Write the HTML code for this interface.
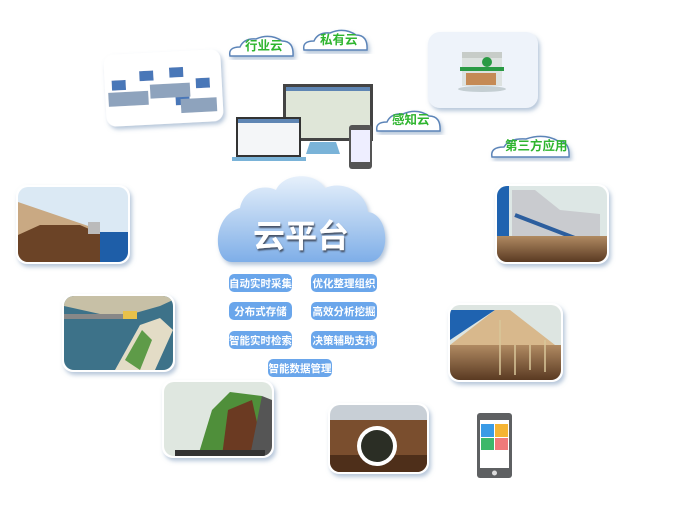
<!DOCTYPE html>
<html><head><meta charset="utf-8"><style>
body{margin:0;background:#fff;width:680px;height:525px;overflow:hidden;font-family:"Liberation Sans","Noto Sans CJK SC",sans-serif}
svg{display:block}
</style></head><body>
<svg width="680" height="525" viewBox="0 0 680 525" xmlns="http://www.w3.org/2000/svg">
<defs>
<linearGradient id="cl" x1="0" y1="0" x2="0" y2="1"><stop offset="0" stop-color="#e6f0fb"/><stop offset="0.6" stop-color="#a9c9ef"/><stop offset="1" stop-color="#7eaee8"/></linearGradient>
<linearGradient id="soil" x1="0" y1="0" x2="0" y2="1"><stop offset="0" stop-color="#b08a62"/><stop offset="1" stop-color="#5a3a22"/></linearGradient>
<filter id="sh" x="-10%" y="-10%" width="130%" height="130%"><feDropShadow dx="2" dy="3" stdDeviation="2" flood-color="#6e8fb5" flood-opacity="0.5"/></filter>
<filter id="ts"><feDropShadow dx="1" dy="2" stdDeviation="0.8" flood-color="#3d4a5c" flood-opacity="0.9"/></filter>
<clipPath id="c1"><rect x="18" y="187" width="110" height="75" rx="10"/></clipPath>
<clipPath id="c2"><rect x="64" y="296" width="109" height="74" rx="10"/></clipPath>
<clipPath id="c3"><rect x="164" y="382" width="108" height="74" rx="10"/></clipPath>
<clipPath id="c4"><rect x="497" y="186" width="110" height="76" rx="10"/></clipPath>
<clipPath id="c5"><rect x="450" y="305" width="111" height="75" rx="10"/></clipPath>
<clipPath id="c6"><rect x="330" y="405" width="97" height="67" rx="10"/></clipPath>
</defs>

<!-- small clouds -->
<g font-size="12.5" font-weight="bold">
<path d="M230 56 q-2-9 10-9 q4-9 16-8 q14-6 26 2 q12 0 11 15 z" fill="#fff" stroke="#5b84b8" stroke-width="1.5" filter="url(#sh)"/>
<text x="245" y="50" fill="#2fb52f">行业云</text>
<path d="M304 50 q-2-9 10-9 q4-9 16-8 q14-6 26 2 q12 0 11 15 z" fill="#fff" stroke="#5b84b8" stroke-width="1.5" filter="url(#sh)"/>
<text x="320" y="44" fill="#2fb52f">私有云</text>
<path d="M377 131 q-2-9 10-9 q4-9 16-8 q14-6 26 2 q12 0 11 15 z" fill="#fff" stroke="#5b84b8" stroke-width="1.5" filter="url(#sh)"/>
<text x="392" y="124" fill="#2fb52f">感知云</text>
<path d="M492 157 q-2-10 12-10 q5-9 22-8 q18-6 32 2 q12 0 11 16 z" fill="#fff" stroke="#5b84b8" stroke-width="1.5" filter="url(#sh)"/>
<text x="505" y="150" fill="#2fb52f">第三方应用</text>
</g>

<!-- office card -->
<g transform="rotate(-3 163 88)" filter="url(#sh)">
<rect x="105" y="52" width="117" height="72" rx="10" fill="#fff"/>
<g fill="#4a77b8"><rect x="112" y="78" width="14" height="10"/><rect x="140" y="70" width="14" height="10"/><rect x="170" y="68" width="14" height="10"/><rect x="196" y="80" width="14" height="10"/><rect x="130" y="94" width="14" height="10"/><rect x="175" y="96" width="14" height="10"/></g>
<g fill="#8ea3bd"><rect x="108" y="90" width="40" height="14"/><rect x="150" y="84" width="40" height="14"/><rect x="180" y="100" width="36" height="14"/></g>
</g>

<!-- building card -->
<rect x="428" y="32" width="110" height="76" rx="12" fill="#eef3fa" filter="url(#sh)"/>
<rect x="462" y="52" width="40" height="34" fill="#dde2e0"/>
<rect x="462" y="52" width="40" height="6" fill="#c7ccc8"/>
<rect x="460" y="67" width="44" height="4" fill="#2a9a44"/>
<circle cx="487" cy="62" r="5" fill="#2a9a44"/>
<rect x="466" y="73" width="30" height="12" fill="#c58a55"/>
<ellipse cx="482" cy="89" rx="24" ry="3" fill="#9aa" opacity="0.5"/>

<!-- monitors -->
<rect x="283" y="84" width="90" height="57" fill="#444"/>
<rect x="286" y="87" width="84" height="51" fill="#dfe6d8"/>
<rect x="286" y="87" width="84" height="4" fill="#5f86b4"/>
<path d="M310 142 h26 l4 12 h-34 z" fill="#7ab3d8"/>
<rect x="236" y="117" width="65" height="40" fill="#333"/>
<rect x="238" y="119" width="61" height="36" fill="#f4f6f8"/>
<rect x="238" y="119" width="61" height="4" fill="#5f86b4"/>
<rect x="232" y="157" width="74" height="4" fill="#7ab3d8"/>
<rect x="349" y="125" width="23" height="44" rx="3" fill="#555"/>
<rect x="351" y="130" width="19" height="32" fill="#eef"/>

<!-- central cloud -->
<g filter="url(#sh)">
<path d="M232 262 C212 262 212 215 240 208 C244 188 265 184 276 190 C284 172 316 172 325 188 C343 180 366 192 368 212 C390 214 392 262 368 262 Z" fill="url(#cl)"/>
</g>
<text x="253" y="247" font-size="32" font-weight="bold" fill="#fff" filter="url(#ts)">云平台</text>

<!-- buttons -->
<g font-size="10.5" font-weight="bold" fill="#fff" text-anchor="middle">
<rect x="229" y="274" width="63" height="18" rx="5" fill="#6aa6eb"/><text x="260.5" y="287">自动实时采集</text>
<rect x="311" y="274" width="66" height="18" rx="5" fill="#6aa6eb"/><text x="344" y="287">优化整理组织</text>
<rect x="229" y="302" width="63" height="18" rx="5" fill="#6aa6eb"/><text x="260.5" y="315">分布式存储</text>
<rect x="311" y="302" width="66" height="18" rx="5" fill="#6aa6eb"/><text x="344" y="315">高效分析挖掘</text>
<rect x="229" y="331" width="63" height="18" rx="5" fill="#6aa6eb"/><text x="260.5" y="344">智能实时检索</text>
<rect x="311" y="331" width="66" height="18" rx="5" fill="#6aa6eb"/><text x="344" y="344">决策辅助支持</text>
<rect x="268" y="359" width="64" height="18" rx="5" fill="#6aa6eb"/><text x="300" y="372">智能数据管理</text>
</g>

<!-- picture cards -->
<g filter="url(#sh)"><rect x="16" y="185" width="114" height="79" rx="11" fill="#fff"/></g>
<g clip-path="url(#c1)">
<rect x="18" y="187" width="110" height="75" fill="#dbe9f4"/>
<path d="M18 202 L100 230 L100 262 L18 262 Z" fill="#c9a983"/>
<path d="M18 235 L40 225 L80 225 L105 236 L105 262 L18 262 Z" fill="#6b4326"/>
<path d="M100 232 L128 232 L128 262 L100 262 Z" fill="#1e5ea8"/>
<rect x="88" y="222" width="12" height="12" fill="#bbb"/>
</g>

<g filter="url(#sh)"><rect x="62" y="294" width="113" height="78" rx="11" fill="#fff"/></g>
<g clip-path="url(#c2)">
<rect x="64" y="296" width="109" height="74" fill="#3d7289"/>
<path d="M64 306 L118 318 L160 306 L173 300 L173 296 L64 296 Z" fill="#c7c0a6"/>
<rect x="64" y="314" width="60" height="5" fill="#888"/>
<path d="M115 370 L140 325 L160 318 L173 330 L155 370 Z" fill="#e3dcc6"/>
<path d="M125 360 L142 330 L152 340 L140 370 Z" fill="#5e9b48"/>
<rect x="123" y="311" width="14" height="8" fill="#e8c14a"/>
</g>

<g filter="url(#sh)"><rect x="162" y="380" width="112" height="78" rx="11" fill="#fff"/></g>
<g clip-path="url(#c3)">
<rect x="164" y="382" width="108" height="74" fill="#dfe7e0"/>
<path d="M198 456 L212 410 L230 392 L262 396 L262 440 L240 456 Z" fill="#4f8f3a"/>
<path d="M222 456 L228 410 L252 400 L262 445 L250 456 Z" fill="#6b3a22"/>
<path d="M262 396 L272 400 L272 456 L250 456 Z" fill="#555"/>
<rect x="175" y="450" width="90" height="6" fill="#333"/>
</g>

<g filter="url(#sh)"><rect x="495" y="184" width="114" height="80" rx="11" fill="#fff"/></g>
<g clip-path="url(#c4)">
<rect x="497" y="186" width="110" height="76" fill="#dde7e5"/>
<rect x="497" y="186" width="12" height="50" fill="#1f63b0"/>
<path d="M512 190 L535 190 L560 210 L600 214 L600 236 L512 236 Z" fill="#c9cbcf"/>
<path d="M515 215 L580 240" stroke="#2c5e9e" stroke-width="4"/>
<rect x="497" y="236" width="110" height="26" fill="url(#soil)"/>
</g>

<g filter="url(#sh)"><rect x="448" y="303" width="115" height="79" rx="11" fill="#fff"/></g>
<g clip-path="url(#c5)">
<rect x="450" y="305" width="111" height="75" fill="#dde5e1"/>
<path d="M450 310 L495 310 L450 340 Z" fill="#1f63b0"/>
<path d="M450 345 L495 310 L510 310 L555 345 Z" fill="#d8b88c"/>
<rect x="450" y="345" width="111" height="35" fill="url(#soil)"/>
<g stroke="#d9c79a" stroke-width="1.5"><path d="M500 320 V375 M515 345 V375 M530 345 V370 M545 340 V372"/></g>
</g>

<g filter="url(#sh)"><rect x="328" y="403" width="101" height="71" rx="11" fill="#fff"/></g>
<g clip-path="url(#c6)">
<rect x="330" y="405" width="97" height="67" fill="#c8cfd6"/>
<rect x="330" y="420" width="97" height="52" fill="#7a4e2e"/>
<rect x="330" y="455" width="97" height="17" fill="#4e2f1a"/>
<circle cx="377" cy="446" r="20" fill="#fff"/>
<circle cx="377" cy="446" r="16" fill="#2b2e25"/>
</g>

<!-- phone -->
<rect x="477" y="413" width="35" height="65" rx="3" fill="#5e6062"/>
<rect x="480" y="420" width="29" height="48" fill="#fff"/>
<rect x="481" y="424" width="13" height="13" fill="#3a9be6"/>
<rect x="495" y="424" width="13" height="13" fill="#f5b433"/>
<rect x="481" y="438" width="13" height="12" fill="#3cb86a"/>
<rect x="495" y="438" width="13" height="12" fill="#f07a7a"/>
<circle cx="494.5" cy="473" r="2.5" fill="#ddd"/>
</svg>
</body></html>
